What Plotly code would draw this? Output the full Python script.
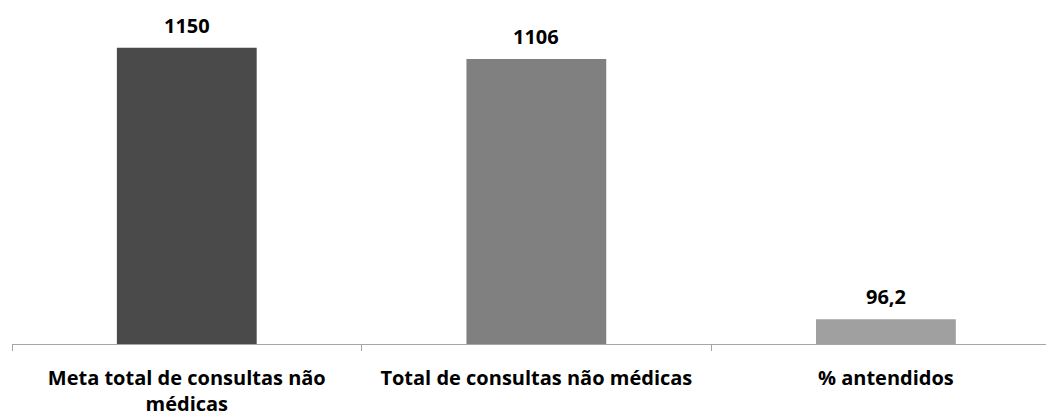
import plotly.graph_objects as go

categories = ["Meta total de consultas não<br>médicas", "Total de consultas não médicas", "% antendidos"]
values = [1150, 1106, 96.2]
value_labels = ["1150", "1106", "96,2"]
bar_colors = ["#4a4a4a", "#808080", "#a0a0a0"]

FONT = "'Open Sans', 'Noto Sans', sans-serif"

fig = go.Figure(
    go.Bar(
        x=categories,
        y=values,
        marker=dict(color=bar_colors, line=dict(width=0)),
        width=0.4,
        hoverinfo="skip",
    )
)

# value labels above the bars
for cat, val, lab in zip(categories, values, value_labels):
    fig.add_annotation(
        x=cat, y=val, text=f"<b>{lab}</b>", showarrow=False,
        yanchor="bottom", yshift=7,
        font=dict(family=FONT, size=20, color="#000000"),
    )

fig.update_layout(
    width=1046,
    height=414,
    margin=dict(l=12, r=0, t=0, b=70),
    paper_bgcolor="white",
    plot_bgcolor="white",
    showlegend=False,
    font=dict(family=FONT, size=20, color="#000000"),
)
fig.update_xaxes(
    range=[-0.5, 2.458],
    showline=True, linecolor="#a6a6a6", linewidth=1,
    ticks="outside", tickson="boundaries", ticklen=6, tickcolor="#a6a6a6",
    tickfont=dict(family=FONT, size=20, color="#000000", weight="bold"),
    ticklabelstandoff=16,
    automargin=False,
    showgrid=False,
)
fig.update_yaxes(range=[0, 1335], visible=False, showgrid=False)

# drop the default page margin so the figure sits at the window's corner
fig.write_html(
    "out.html",
    config={"displayModeBar": False},
    post_script="document.body.style.margin='0';document.body.style.overflow='hidden';",
)
